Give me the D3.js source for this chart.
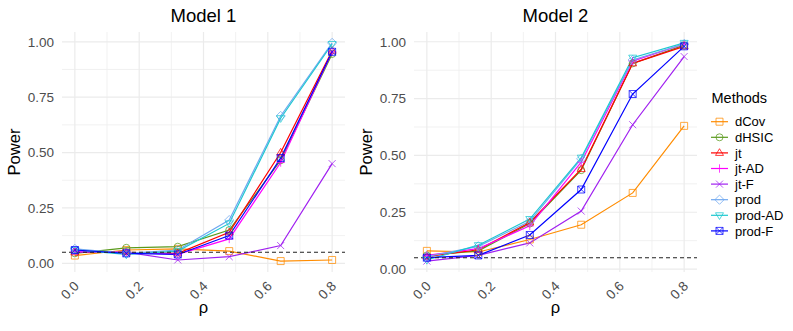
<!DOCTYPE html>
<html><head><meta charset="utf-8">
<script src="https://cdn.jsdelivr.net/npm/d3@7"></script>
<style>body{margin:0;background:#fff}svg{display:block;font-family:"Liberation Sans",Arial,sans-serif}</style>
</head><body><svg id="c" width="793" height="331"></svg>
<script>
const rho = [0, 0.16, 0.32, 0.48, 0.64, 0.8];
const methods = ["dCov","dHSIC","jt","jt-AD","jt-F","prod","prod-AD","prod-F"];
const colors = ["#FF8C00","#5A9A1C","#FF0000","#FF00FF","#A020F0","#6FA8F0","#1CC8D0","#0000FF"];
const xTicks = [0, 0.2, 0.4, 0.6, 0.8];
const yTicks = [0, 0.25, 0.5, 0.75, 1];
const alpha = 0.05;
const titles = ["Model 1", "Model 2"];

// Model 1
const m1_dCov   = [0.035, 0.060, 0.065, 0.055, 0.010, 0.015];
const m1_dHSIC  = [0.045, 0.070, 0.075, 0.150, 0.465, 0.945];
const m1_jt     = [0.050, 0.050, 0.045, 0.140, 0.500, 0.960];
const m1_jtAD   = [0.055, 0.050, 0.040, 0.110, 0.455, 0.955];
const m1_jtF    = [0.050, 0.050, 0.015, 0.030, 0.080, 0.450];
const m1_prod   = [0.065, 0.045, 0.060, 0.195, 0.665, 0.995];
const m1_prodAD = [0.060, 0.040, 0.055, 0.180, 0.655, 0.990];
const m1_prodF  = [0.060, 0.045, 0.040, 0.125, 0.475, 0.955];
// Model 2
const m2_dCov   = [0.080, 0.075, 0.130, 0.195, 0.335, 0.630];
const m2_dHSIC  = [0.060, 0.080, 0.200, 0.435, 0.905, 0.985];
const m2_jt     = [0.055, 0.085, 0.205, 0.440, 0.905, 0.980];
const m2_jtAD   = [0.060, 0.090, 0.190, 0.470, 0.915, 0.990];
const m2_jtF    = [0.035, 0.060, 0.115, 0.255, 0.635, 0.935];
const m2_prod   = [0.055, 0.100, 0.210, 0.485, 0.920, 0.990];
const m2_prodAD = [0.040, 0.105, 0.220, 0.490, 0.930, 0.995];
const m2_prodF  = [0.050, 0.060, 0.150, 0.350, 0.770, 0.980];

const model1 = [m1_dCov, m1_dHSIC, m1_jt, m1_jtAD, m1_jtF, m1_prod, m1_prodAD, m1_prodF];
const model2 = [m2_dCov, m2_dHSIC, m2_jt, m2_jtAD, m2_jtF, m2_prod, m2_prodAD, m2_prodF];

function shapePath(i, s) {
  const t = s * 1.2;
  switch (i) {
    case 0: return `M${-s},${-s}h${2*s}v${2*s}h${-2*s}Z`;
    case 1: return `M${s},0A${s},${s} 0 1,1 ${-s},0A${s},${s} 0 1,1 ${s},0Z`;
    case 2: return `M0,${-t}L${t*0.95},${t*0.6}L${-t*0.95},${t*0.6}Z`;
    case 3: return `M${-t},0H${t}M0,${-t}V${t}`;
    case 4: return `M${-s},${-s}L${s},${s}M${-s},${s}L${s},${-s}`;
    case 5: return `M0,${-t*1.1}L${t*1.1},0L0,${t*1.1}L${-t*1.1},0Z`;
    case 6: return `M0,${t}L${t*0.95},${-t*0.6}L${-t*0.95},${-t*0.6}Z`;
    case 7: return `M${-s},${-s}h${2*s}v${2*s}h${-2*s}ZM${-s},${-s}L${s},${s}M${-s},${s}L${s},${-s}`;
  }
}

const svg = d3.select("#c");
const panels = [
  {data: model1, x0: 62, x1: 345, y0: 32, y1: 272, title: titles[0], ylabX: 20},
  {data: model2, x0: 414, x1: 697, y0: 32, y1: 272, title: titles[1], ylabX: 372}
];

panels.forEach(p => {
  const all = p.data.flat().concat([alpha]);
  const [mn, mx] = d3.extent(all);
  const pad = (mx - mn) * 0.05;
  const y = d3.scaleLinear().domain([mn - pad, mx + pad]).range([p.y1, p.y0]);
  const x = d3.scaleLinear().domain([-0.04, 0.84]).range([p.x0, p.x1]);
  const g = svg.append("g");

  const xMinor = d3.range(0.1, 0.8, 0.2);
  const yMinor = d3.range(0.125, 1, 0.25);
  g.selectAll(null).data(xMinor).enter().append("line")
    .attr("x1", d => x(d)).attr("x2", d => x(d)).attr("y1", p.y0).attr("y2", p.y1)
    .attr("stroke", "#EDEDED").attr("stroke-width", 0.8);
  g.selectAll(null).data(yMinor).enter().append("line")
    .attr("y1", d => y(d)).attr("y2", d => y(d)).attr("x1", p.x0).attr("x2", p.x1)
    .attr("stroke", "#EDEDED").attr("stroke-width", 0.8);
  g.selectAll(null).data(xTicks).enter().append("line")
    .attr("x1", d => x(d)).attr("x2", d => x(d)).attr("y1", p.y0).attr("y2", p.y1)
    .attr("stroke", "#EBEBEB").attr("stroke-width", 1.2);
  g.selectAll(null).data(yTicks).enter().append("line")
    .attr("y1", d => y(d)).attr("y2", d => y(d)).attr("x1", p.x0).attr("x2", p.x1)
    .attr("stroke", "#EBEBEB").attr("stroke-width", 1.2);

  g.selectAll(null).data(yTicks).enter().append("text")
    .attr("x", p.x0 - 8).attr("y", d => y(d)).attr("dy", "0.36em")
    .attr("text-anchor", "end").attr("font-size", 13.5).attr("fill", "#4D4D4D")
    .text(d => d3.format(".2f")(d));
  g.selectAll(null).data(xTicks).enter().append("text")
    .attr("transform", d => `translate(${x(d) + 5},287) rotate(-45)`)
    .attr("text-anchor", "end").attr("font-size", 13.5).attr("fill", "#4D4D4D")
    .text(d => d3.format(".1f")(d));

  g.append("text").attr("x", (p.x0 + p.x1) / 2).attr("y", 22).attr("text-anchor", "middle")
    .attr("font-size", 18.5).attr("fill", "#000").text(p.title);
  g.append("text").attr("x", (p.x0 + p.x1) / 2).attr("y", 313).attr("text-anchor", "middle")
    .attr("font-size", 16.5).attr("fill", "#000").text("ρ");
  g.append("text").attr("transform", `translate(${p.ylabX},${(p.y0 + p.y1) / 2}) rotate(-90)`)
    .attr("text-anchor", "middle").attr("font-size", 16.5).attr("fill", "#000").text("Power");

  const line = d3.line().x((d, i) => x(rho[i])).y(d => y(d));
  p.data.forEach((vals, k) => {
    g.append("path").attr("d", line(vals)).attr("fill", "none")
      .attr("stroke", colors[k]).attr("stroke-width", 1.2);
  });
  g.append("line").attr("x1", p.x0).attr("x2", p.x1).attr("y1", y(alpha)).attr("y2", y(alpha))
    .attr("stroke", "#222").attr("stroke-width", 1.1).attr("stroke-dasharray", "4,3");
  p.data.forEach((vals, k) => {
    g.selectAll(null).data(vals).enter().append("path")
      .attr("transform", (d, i) => `translate(${x(rho[i])},${y(d)})`)
      .attr("d", shapePath(k, 3.5)).attr("fill", "none")
      .attr("stroke", colors[k]).attr("stroke-width", 1).attr("stroke-opacity", 0.75);
  });
});

const lg = svg.append("g");
lg.append("text").attr("x", 711.5).attr("y", 103).attr("font-size", 14.5).attr("fill", "#000").text("Methods");
methods.forEach((m, k) => {
  const cy = 121.7 + k * 15.6;
  lg.append("line").attr("x1", 711).attr("x2", 728).attr("y1", cy).attr("y2", cy)
    .attr("stroke", colors[k]).attr("stroke-width", 1.2);
  lg.append("path").attr("transform", `translate(719.5,${cy})`).attr("d", shapePath(k, 3.5))
    .attr("fill", "none").attr("stroke", colors[k]).attr("stroke-width", 1).attr("stroke-opacity", 0.75);
  lg.append("text").attr("x", 735).attr("y", cy).attr("dy", "0.36em").attr("font-size", 13)
    .attr("fill", "#000").text(m);
});
</script></body></html>
